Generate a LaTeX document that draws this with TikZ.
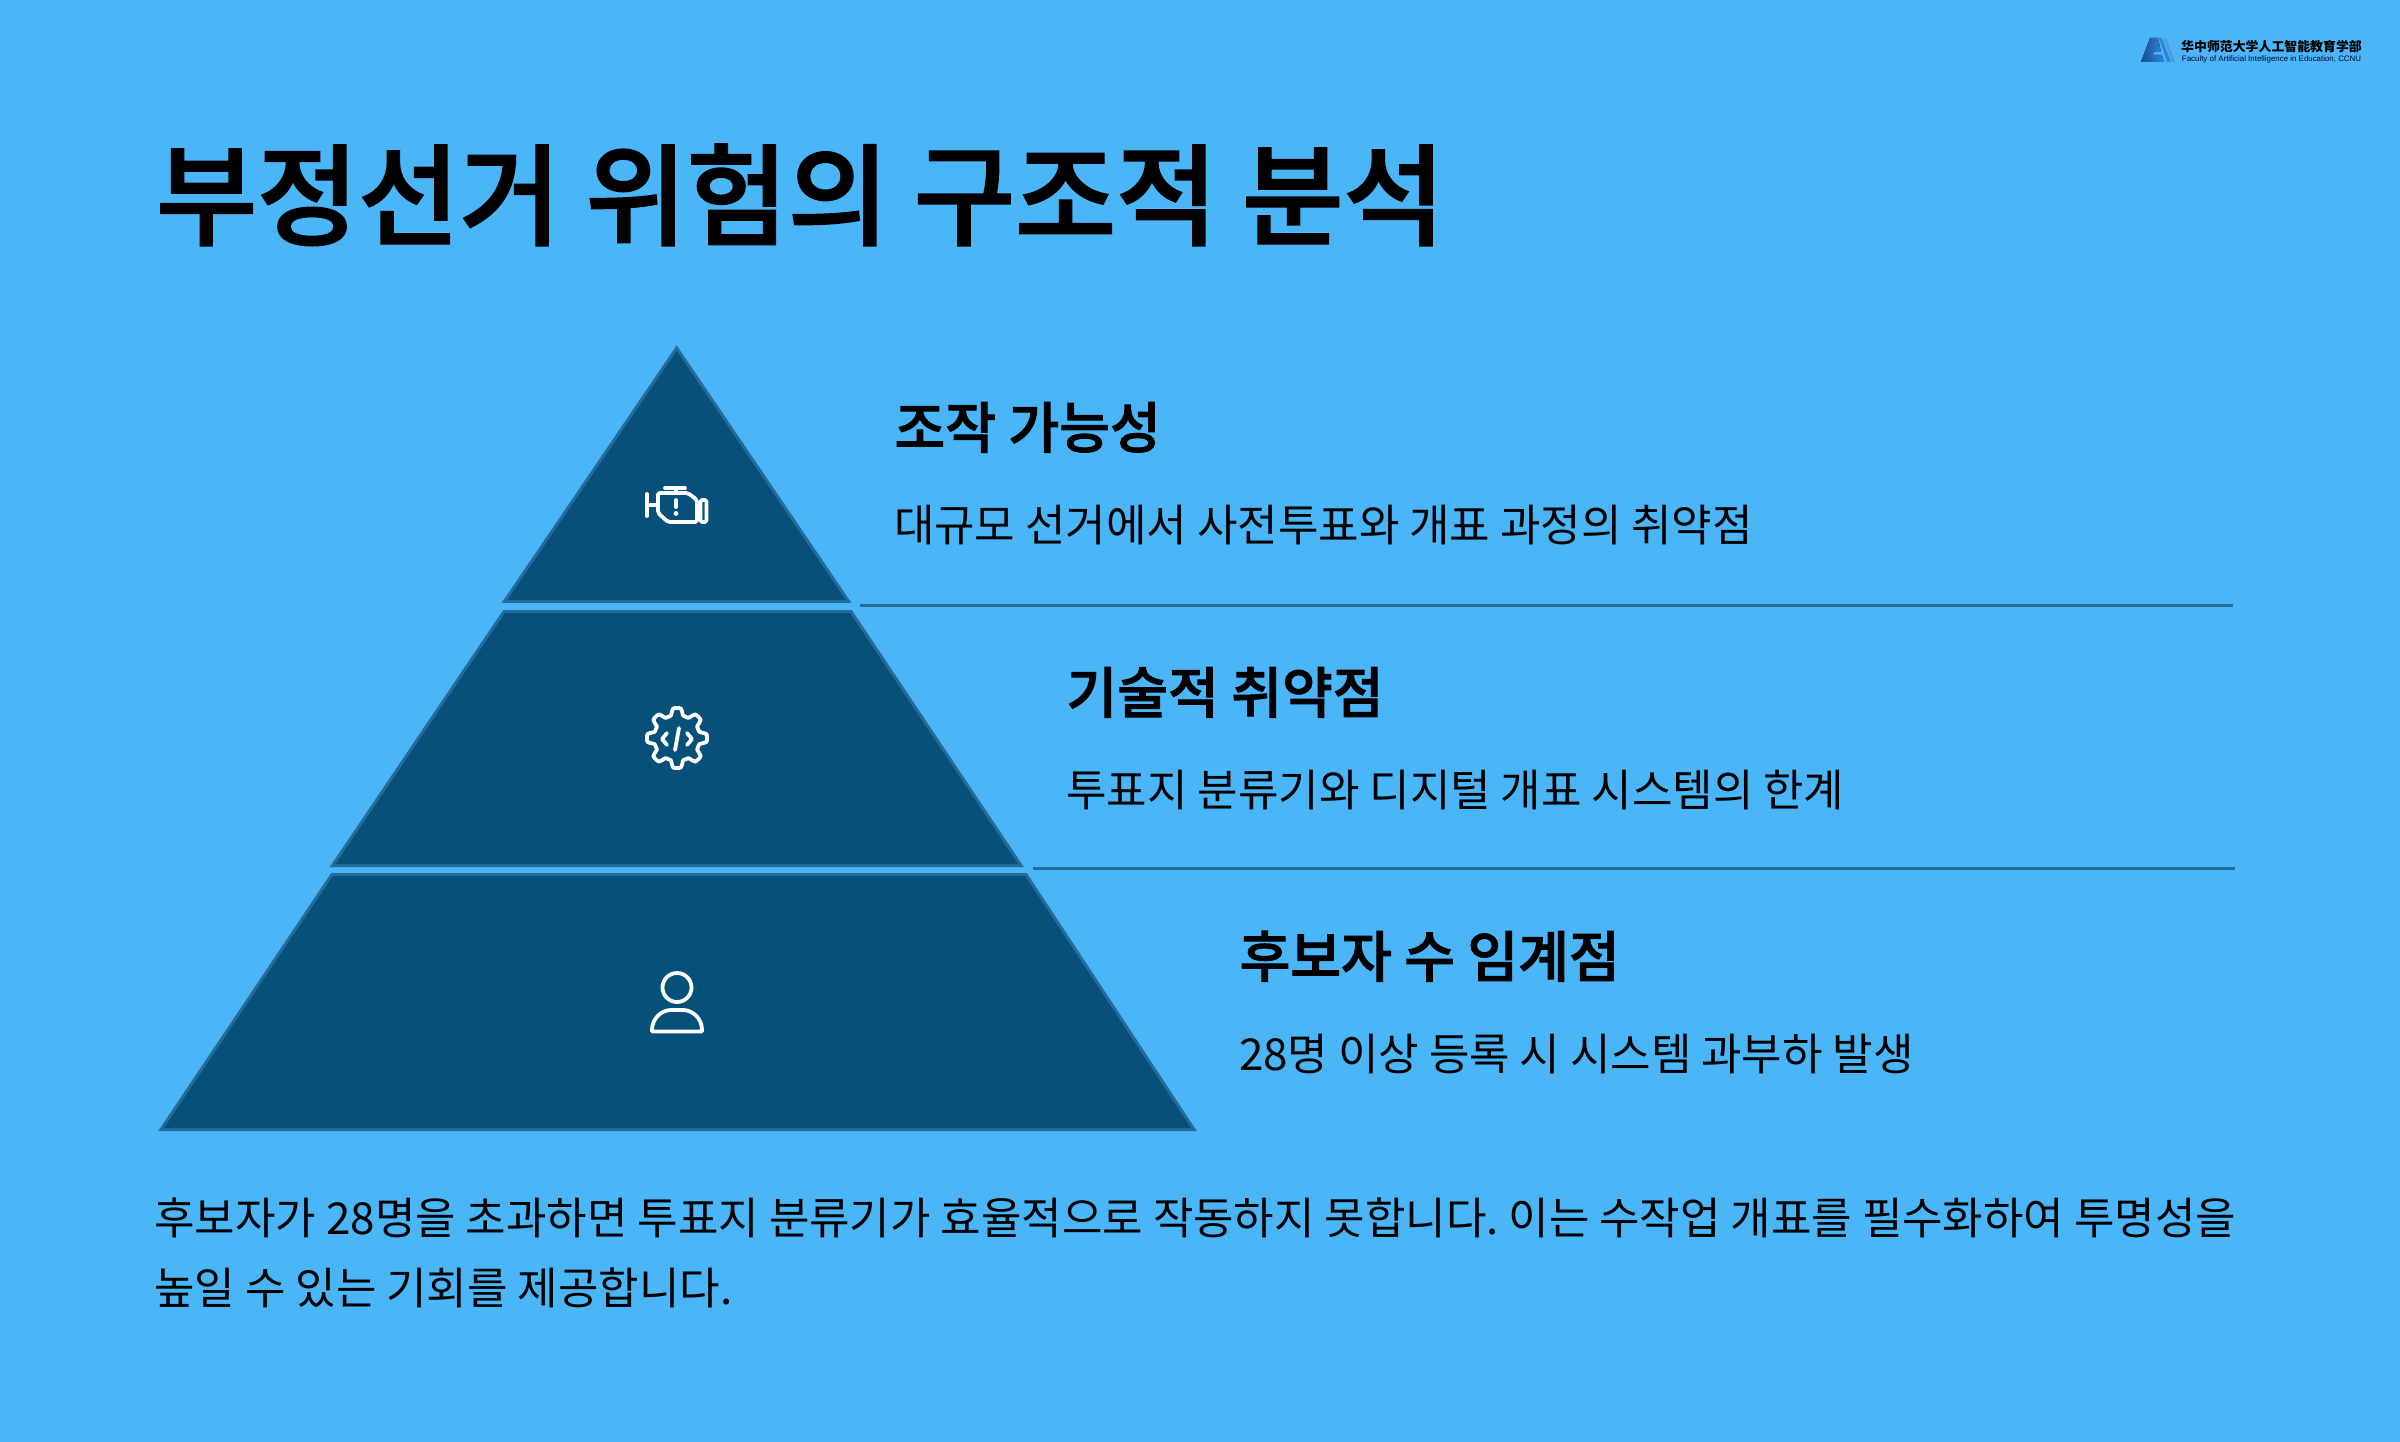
\documentclass[tikz,border=0pt]{standalone}
\usepackage{fontspec}
\setmainfont{Noto Sans CJK KR}
\newfontfamily\medfont[FakeBold=1.8]{Noto Sans CJK KR Medium}
\newfontfamily\cnfont{Noto Sans CJK SC}
\newfontfamily\enfont{Liberation Sans}
\definecolor{bgblue}{HTML}{4AB6F8}
\definecolor{dark}{HTML}{07507A}
\definecolor{edge}{HTML}{256B9A}
\definecolor{sepline}{HTML}{246C9C}
\definecolor{logoa}{HTML}{1A4C98}
\definecolor{logob}{HTML}{2F86D8}
\tikzset{
  x=1pt,y=-1pt,
  level/.style={fill=dark,draw=edge,line width=3pt,line join=miter},
  sep/.style={draw=sepline,line width=3pt},
  icon/.style={draw=white,line width=3.8pt,line cap=round,line join=round},
  txt/.style={anchor=base west,inner sep=0pt,outer sep=0pt,text=black},
  title/.style={txt,font=\fontsize{110}{120}\selectfont\medfont},
  head/.style={txt,font=\fontsize{55.2}{60}\selectfont\medfont},
  body/.style={txt,font=\fontsize{44}{50}\selectfont},
}
\begin{document}
\begin{tikzpicture}
\fill[bgblue] (0,0) rectangle (2400,1442);
\useasboundingbox (0,0) rectangle (2400,1442);
% logo
\fill[left color=logoa,right color=logob] (2141,62) -- (2150,38) -- (2158,38) -- (2161,52) -- (2154,52) -- (2152,55) -- (2162,55) -- (2164,62) -- (2149,62) -- (2152,55) -- (2148,62) -- cycle;
\fill[logob] (2159,38) -- (2162,38) -- (2171,62) -- (2167,62) -- cycle;
\fill[logob!85!white] (2164,38) -- (2166,38) -- (2175,62) -- (2172,62) -- cycle;
\fill[logob!70!white] (2168,38) -- (2169,38) -- (2178,62) -- (2176,62) -- cycle;
\node[anchor=center,inner sep=0pt,text=black,font=\cnfont\bfseries\fontsize{12.9}{14}\selectfont] (logocn) at (2271.5,47) {华中师范大学人工智能教育学部};
\node[anchor=center,inner sep=0pt,text=black!75!blue,font=\enfont\fontsize{7.9}{8}\selectfont] (logoen) at (2271.5,59) {Faculty of Artificial Intelligence in Education, CCNU};
% title
\node[title] (ttl) at (156,236.5) {부정선거 위험의 구조적 분석};
% pyramid
\draw[level] (676.7,348) -- (848.5,601.3) -- (504.5,601.3) -- cycle;
\draw[level] (504,611.5) -- (851,611.5) -- (1021,865.5) -- (332.5,865.5) -- cycle;
\draw[level] (332,874.5) -- (1026,874.5) -- (1194,1129.5) -- (161,1129.5) -- cycle;
% separators
\coordinate (s1a) at (860,605); \coordinate (s1b) at (2233,605);
\coordinate (s2a) at (1033,868); \coordinate (s2b) at (2235,868);
\draw[sep] (s1a) -- (s1b);
\draw[sep] (s2a) -- (s2b);
% engine icon
\draw[icon] (647,494) -- (647,516) (647,505) -- (658,505);
\draw[icon] (658,505) -- (658,497) [rounded corners=2pt] -- (658,493) -- (688,493) -- (697,500) -- (697,522) -- (668,522) -- (658,513) -- cycle;
\draw[icon] (676,488) -- (676,493) (665,488) -- (685,488);
\draw[icon] (676,500) -- (676,507);
\fill[white] (676,513.5) circle (2.4pt);
\draw[icon,rounded corners=1.5pt] (700.5,500) rectangle (706.5,522);
% gear icon
\draw[icon] plot[smooth,domain=0:360,samples=97] ({677+(26.5+3.6*max(-1,min(1,1.8*cos(8*\x))))*cos(\x)},{738+(26.5+3.6*max(-1,min(1,1.8*cos(8*\x))))*sin(\x)}) -- cycle;
\draw[icon] (667,733) -- (662,739) -- (667,745);
\draw[icon] (687,733) -- (692,739) -- (687,745);
\draw[icon] (679,728) -- (675,750);
% person icon
\draw[icon] (677,987.5) circle (14.5);
\draw[icon] (652,1031.5) -- (702,1031.5) -- (702,1030) .. controls (702,1018) and (692,1010) .. (683,1010) -- (671,1010) .. controls (662,1010) and (652,1018) .. (652,1030) -- cycle;
% texts
\node[head] (h1) at (894.5,448) {조작 가능성};
\node[body] (b1) at (894,541) {대규모 선거에서 사전투표와 개표 과정의 취약점};
\node[head] (h2) at (1066.5,713) {기술적 취약점};
\node[body] (b2) at (1066.5,806) {투표지 분류기와 디지털 개표 시스템의 한계};
\node[head] (h3) at (1239.5,977) {후보자 수 임계점};
\node[body] (b3) at (1239,1070) {28명 이상 등록 시 시스템 과부하 발생};
\node[body] (f1) at (154.5,1234) {후보자가 28명을 초과하면 투표지 분류기가 효율적으로 작동하지 못합니다.\kern-3.5pt{} 이는 수작업 개표를 필수화하여 투명성을};
\node[body] (f2) at (154.5,1304.5) {높일 수 있는 기회를 제공합니다.};
\end{tikzpicture}
\end{document}
